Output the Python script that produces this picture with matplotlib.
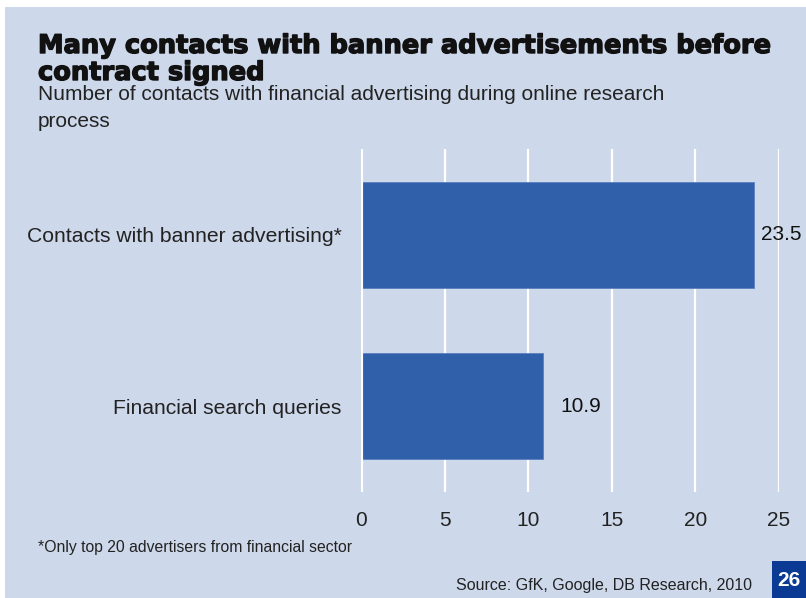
import numpy as np
import matplotlib.pyplot as plt
import matplotlib.patheffects as pe
from matplotlib.patches import Rectangle

plt.rcParams['font.family'] = ['Liberation Sans', 'DejaVu Sans']

# chart data
categories = ['Financial search queries', 'Contacts with banner advertising*']
values = [10.9, 23.5]
xticks = [0, 5, 10, 15, 20, 25]
label_pad = [17, 7]  # px gap between bar end and value label
title_lines = ['Many contacts with banner advertisements before', 'contract signed']
subtitle_lines = ['Number of contacts with financial advertising during online research', 'process']

bg = '#cdd8ea'
bar_col = '#3160aa'
W, H = 806, 598

fig = plt.figure(figsize=(W / 100, H / 100), dpi=100)
fig.patch.set_facecolor('white')
# light blue panel with thin white margin at top/left
fig.patches.append(Rectangle((5 / W, 0), 1 - 5 / W, 1 - 7 / H, transform=fig.transFigure,
                             facecolor=bg, edgecolor='none', zorder=-5))

ax = fig.add_axes([361 / W, 1 - 492 / H, (779 - 361) / W, (492 - 149) / H])
ax.set_facecolor('none')
ypos = np.arange(len(categories))
ax.barh(ypos, values, height=0.62, color=bar_col, edgecolor='#5a80c0', linewidth=0.6, zorder=2)
ax.set_xlim(0, 25)
ax.set_ylim(-0.5, 1.5)

for x in xticks:
    ax.axvline(x, color='white', lw=1.6 if x else 3.0, zorder=1 if x else 3)

for y, v, pad in zip(ypos, values, label_pad):
    ax.annotate(f'{v}', (v, y), xytext=(pad * 0.72, 0), textcoords='offset points',
                va='center', ha='left', fontsize=15, color='#111111')

ax.set_xticks(xticks)
ax.set_xticklabels([str(t) for t in xticks], fontsize=15, color='#222222')
ax.set_yticks(ypos)
ax.set_yticklabels(categories, fontsize=15.2, color='#222222')
ax.tick_params(axis='x', length=0, pad=14)
ax.tick_params(axis='y', length=0, pad=14)
for s in ax.spines.values():
    s.set_visible(False)

# titles
for i, line in enumerate(title_lines):
    fig.text(38 / W, 1 - (53 + 27 * i) / H, line, family='DejaVu Sans',
             fontsize=18.5, fontweight='bold', color='#111111', va='baseline', ha='left',
             path_effects=[pe.withStroke(linewidth=1.0, foreground='#111111')])
for i, line in enumerate(subtitle_lines):
    fig.text(38 / W, 1 - (100 + 27 * i) / H, line,
             fontsize=15, color='#222222', va='baseline', ha='left')

fig.text(38 / W, 1 - 552 / H, '*Only top 20 advertisers from financial sector',
         fontsize=11.3, color='#222222', va='baseline', ha='left')
fig.text(752 / W, 1 - 590 / H, 'Source: GfK, Google, DB Research, 2010',
         fontsize=11.5, color='#222222', va='baseline', ha='right')

# page number badge
fig.patches.append(Rectangle((772 / W, 0), 34 / W, 37 / H, transform=fig.transFigure,
                             facecolor='#0a3a94', edgecolor='none', zorder=1))
fig.text(789 / W, 1 - 580 / H, '26', fontsize=15, fontweight='bold', color='white',
         va='center', ha='center')

fig.savefig('out.png', dpi=100, facecolor=fig.get_facecolor())
